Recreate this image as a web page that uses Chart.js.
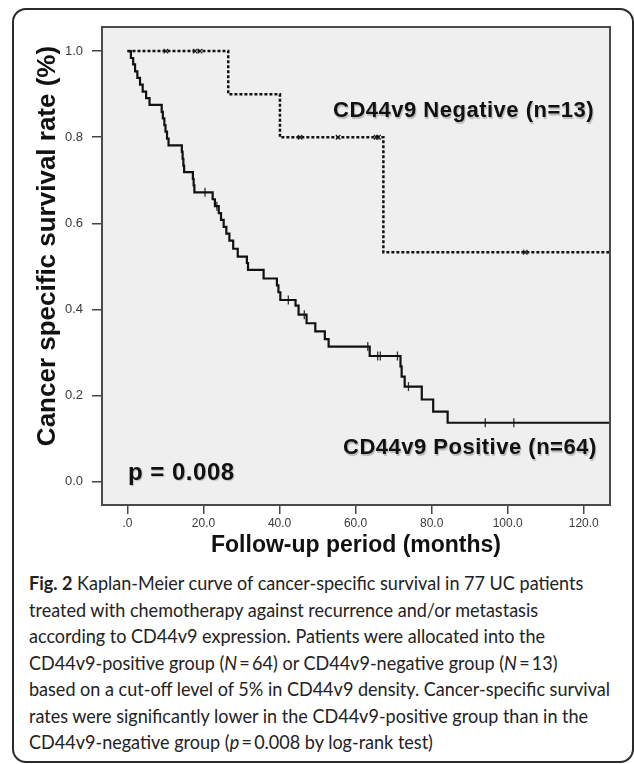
<!DOCTYPE html>
<html>
<head>
<meta charset="utf-8">
<script src="https://cdn.jsdelivr.net/npm/chart.js@4/dist/chart.umd.min.js"></script>
<style>
  html, body { margin: 0; padding: 0; background: #fff; }
  body { width: 634px; height: 764px; position: relative; overflow: hidden; }
  #frame { position: absolute; left: 12px; top: 8px; width: 622px; height: 755px; box-sizing: border-box;
           border: 2px solid #2a2a2a; border-radius: 14px; }
  #chart_box { position: absolute; left: 0; top: 0; width: 634px; height: 565px; }
  #caption { position: absolute; left: 29px; top: 570px; font-family: Lato, "Open Sans", sans-serif;
             font-size: 19px; line-height: 26.5px; color: #222; white-space: nowrap;
             transform-origin: 0 0; }
  #caption b { font-weight: 700; }
</style>
</head>
<body>
<div id="frame"></div>
<div id="chart_box"><canvas id="km_chart" width="634" height="565"></canvas></div>
<div id="caption">
  <div class="cap_line"><b>Fig. 2</b> Kaplan-Meier curve of cancer-specific survival in 77 UC patients</div>
  <div class="cap_line">treated with chemotherapy against recurrence and/or metastasis</div>
  <div class="cap_line">according to CD44v9 expression. Patients were allocated into the</div>
  <div class="cap_line">CD44v9-positive group (<i>N</i>&#8201;=&#8201;64) or CD44v9-negative group (<i>N</i>&#8201;=&#8201;13)</div>
  <div class="cap_line">based on a cut-off level of 5% in CD44v9 density. Cancer-specific survival</div>
  <div class="cap_line">rates were significantly lower in the CD44v9-positive group than in the</div>
  <div class="cap_line">CD44v9-negative group (<i>p</i>&#8201;=&#8201;0.008 by log-rank test)</div>
</div>
<script>
// axis ticks
const x_ticks = [0, 20, 40, 60, 80, 100, 120];
const x_tick_labels = ['.0', '20.0', '40.0', '60.0', '80.0', '100.0', '120.0'];
const y_ticks = [0, 0.2, 0.4, 0.6, 0.8, 1.0];
const y_tick_labels = ['0.0', '0.2', '0.4', '0.6', '0.8', '1.0'];

// CD44v9 negative (n=13): time of each step (months) and survival after it
const neg_time = [0, 26.5, 40.1, 67.3, 127];
const neg_surv = [1.0, 0.9, 0.8, 0.533, 0.533];
// censored cases
const neg_cens_time = [10.1, 17.8, 19.1, 45.4, 55.4, 65.4, 66.0, 104.6];
const neg_cens_surv = [1.0, 1.0, 1.0, 0.8, 0.8, 0.8, 0.8, 0.533];

// CD44v9 positive (n=64)
const pos_time = [0, 0.9, 1.5, 2.0, 2.6, 3.3, 4.0, 4.9, 5.8,
  9.0, 9.3, 9.7, 10.0, 10.4, 10.8, 14.3, 14.5, 14.7, 14.9, 17.2, 17.4, 17.6,
  22.4, 23.0, 24.0, 24.6, 25.3, 26.0, 26.8, 27.8, 29.0, 31.4, 31.7, 35.8,
  39.3, 39.7, 40.2, 44.2, 45.0, 47.1, 49.4, 51.9, 52.9, 63.7,
  71.8, 72.1, 72.9, 77.4, 80.4, 84.2, 127];
const pos_surv = [1.0, 0.984, 0.969, 0.953, 0.938, 0.922, 0.906, 0.891, 0.875,
  0.859, 0.844, 0.828, 0.813, 0.797, 0.781, 0.766, 0.750, 0.734, 0.719, 0.703, 0.688, 0.672,
  0.656, 0.640, 0.624, 0.608, 0.592, 0.576, 0.560, 0.541, 0.523, 0.508, 0.492, 0.472,
  0.456, 0.440, 0.422, 0.409, 0.388, 0.368, 0.349, 0.331, 0.314, 0.292,
  0.268, 0.244, 0.221, 0.191, 0.163, 0.137, 0.137];
const pos_cens_time = [20.4, 23.5, 42.3, 46.5, 63.2, 65.8, 66.5, 71.0, 73.9, 94.1, 101.6];
const pos_cens_surv = [0.672, 0.640, 0.422, 0.388, 0.314, 0.292, 0.292, 0.292, 0.221, 0.137, 0.137];

const group_labels = ['CD44v9 Negative (n=13)', 'CD44v9 Positive (n=64)'];
const p_label = 'p = 0.008';
const y_title = 'Cancer specific survival rate (%)';
const x_title = 'Follow-up period (months)';

function to_points(xs, ys) {
  return xs.map((x, i) => ({ x: x, y: ys[i] }));
}

// plot background, frame and the text inside the plot
const decor = {
  id: 'decor',
  beforeDraw(chart) {
    const a = chart.chartArea;
    const c = chart.ctx;
    c.save();
    c.fillStyle = '#efefef';
    c.fillRect(a.left, a.top, a.right - a.left, a.bottom - a.top);
    c.restore();
  },
  afterDraw(chart) {
    const a = chart.chartArea;
    const c = chart.ctx;
    c.save();
    c.strokeStyle = '#4a4a4a';
    c.lineWidth = 2;
    c.strokeRect(a.left, a.top, a.right - a.left, a.bottom - a.top);

    c.fillStyle = '#111';
    c.textBaseline = 'middle';
    c.textAlign = 'left';
    c.shadowColor = 'rgba(0,0,0,0.22)';
    c.shadowOffsetX = 1;
    c.shadowOffsetY = 1.5;
    c.shadowBlur = 1;
    c.font = 'bold 22px "Liberation Sans", Arial, sans-serif';
    c.letterSpacing = '0.5px';
    c.fillText(group_labels[0], 333, 111);
    c.fillText(group_labels[1], 343, 448);
    c.font = 'bold 24px "Liberation Sans", Arial, sans-serif';
    c.fillText(p_label, 128, 473);
    c.shadowColor = 'transparent';

    // y axis title
    c.letterSpacing = '0px';
    c.font = 'bold 26px "Liberation Sans", Arial, sans-serif';
    c.translate(48, 246);
    c.rotate(-Math.PI / 2);
    c.textAlign = 'center';
    c.fillText(y_title, 0, 0);
    c.restore();
  }
};

new Chart(document.getElementById('km_chart'), {
  type: 'line',
  data: {
    datasets: [
      {
        data: to_points(neg_time, neg_surv),
        stepped: 'before',
        borderColor: '#111',
        borderWidth: 2.5,
        borderDash: [3, 2],
        pointRadius: 0,
        fill: false
      },
      {
        data: to_points(pos_time, pos_surv),
        stepped: 'before',
        borderColor: '#111',
        borderWidth: 2.2,
        pointRadius: 0,
        fill: false
      },
      {
        type: 'scatter',
        data: to_points(neg_cens_time, neg_cens_surv),
        pointStyle: 'crossRot',
        pointRadius: 3.2,
        pointBorderColor: '#222',
        pointBorderWidth: 1.3,
        showLine: false
      },
      {
        type: 'scatter',
        data: to_points(pos_cens_time, pos_cens_surv),
        pointStyle: 'line',
        rotation: 90,
        pointRadius: 4.5,
        pointBorderColor: '#333',
        pointBorderWidth: 1.3,
        showLine: false
      }
    ]
  },
  options: {
    responsive: false,
    animation: false,
    devicePixelRatio: 1,
    layout: { padding: { left: 0, top: 27, right: 24, bottom: 0 } },
    plugins: { legend: { display: false }, tooltip: { enabled: false } },
    scales: {
      x: {
        type: 'linear',
        min: -6.7,
        max: 126.9,
        afterBuildTicks: s => { s.ticks = x_ticks.map(v => ({ value: v })); },
        afterFit: s => { s.height = 60; },
        ticks: {
          callback: (v, i) => x_tick_labels[i],
          font: { family: '"Liberation Sans", Arial, sans-serif', size: 12 },
          color: '#3a3a3a',
          padding: 2,
          maxRotation: 0,
          autoSkip: false
        },
        grid: { drawOnChartArea: false, tickLength: 9, color: '#444', lineWidth: 1.5 },
        border: { display: false },
        title: {
          display: true,
          text: x_title,
          font: { family: '"Liberation Sans", Arial, sans-serif', size: 23, weight: 'bold' },
          color: '#111',
          padding: { top: 0, bottom: 6 }
        }
      },
      y: {
        type: 'linear',
        min: -0.054,
        max: 1.056,
        afterBuildTicks: s => { s.ticks = y_ticks.map(v => ({ value: v })); },
        afterFit: s => { s.width = 102; },
        ticks: {
          callback: (v, i) => y_tick_labels[i],
          font: { family: '"Liberation Sans", Arial, sans-serif', size: 13 },
          color: '#3a3a3a',
          padding: 9
        },
        grid: { drawOnChartArea: false, tickLength: 10, color: '#444', lineWidth: 1.5 },
        border: { display: false }
      }
    }
  },
  plugins: [decor]
});

// squeeze the caption so its first line spans the same width as the figure text
const cap = document.getElementById('caption');
const first_line = cap.querySelector('.cap_line');
const w = first_line.getBoundingClientRect().width;
cap.style.transform = 'scaleX(' + (581 / w) + ')';
</script>
</body>
</html>
